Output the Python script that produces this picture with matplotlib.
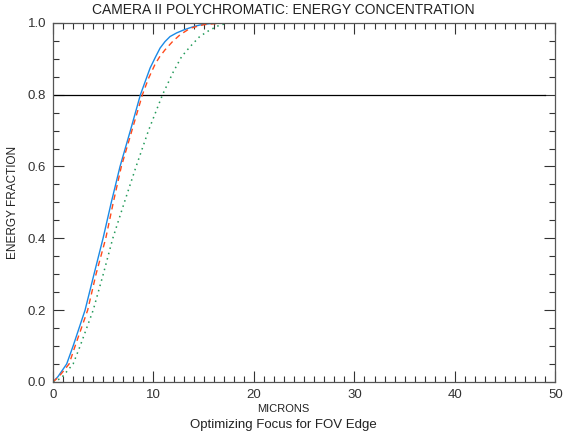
import matplotlib
matplotlib.use("Agg")
import matplotlib.pyplot as plt
from matplotlib.ticker import MultipleLocator

plt.rcParams["font.family"] = ["Liberation Sans", "DejaVu Sans"]

# energy fraction vs. microns
blue_x = [0, 0.5, 1.36, 2.0, 3.19, 4.08, 4.98, 5.8, 6.67, 7.7, 8.7, 9.66, 10.2, 10.66, 11.15, 11.65, 12.3, 12.98, 13.8, 14.6, 15.6, 16.6, 20, 25, 29.5]
blue_y = [0, 0.015, 0.05, 0.1, 0.2, 0.3, 0.4, 0.5, 0.6, 0.7, 0.8, 0.874, 0.905, 0.93, 0.948, 0.962, 0.972, 0.98, 0.988, 0.994, 0.998, 1.0, 1.0, 1.0, 1.0]

red_x = [0, 0.6, 1.6, 2.2, 3.45, 4.28, 5.25, 6.0, 6.8, 7.85, 8.9, 9.5, 10.16, 10.6, 11.15, 11.9, 12.65, 13.65, 15.0, 17.0, 20, 25, 29.5]
red_y = [0, 0.015, 0.05, 0.1, 0.2, 0.3, 0.4, 0.5, 0.6, 0.7, 0.8, 0.845, 0.885, 0.905, 0.925, 0.948, 0.967, 0.985, 0.995, 1.0, 1.0, 1.0, 1.0]

green_x = [0, 0.8, 2.0, 2.7, 4.0, 5.0, 5.95, 7.1, 8.27, 9.5, 10.9, 11.98, 12.8, 13.65, 14.6, 15.6, 16.6, 17.6, 20, 25, 29.5]
green_y = [0, 0.01, 0.05, 0.1, 0.2, 0.3, 0.4, 0.5, 0.6, 0.7, 0.8, 0.864, 0.906, 0.934, 0.962, 0.98, 0.994, 1.0, 1.0, 1.0, 1.0]

ref_level = 0.8
ref_x = [0, 49]

xticks = [0, 10, 20, 30, 40, 50]
yticks = [0.0, 0.2, 0.4, 0.6, 0.8, 1.0]

fig = plt.figure(figsize=(5.67, 4.4), dpi=100)
ax = fig.add_axes([0.0935, 0.132, 0.886, 0.816])

ax.plot(ref_x, [ref_level, ref_level], color="black", lw=0.9)
ax.plot(blue_x, blue_y, color="#1a8ae6", lw=1.0)
ax.plot(red_x, red_y, color="#ff4a1c", lw=1.0, dashes=(4, 3))
ax.plot(green_x, green_y, color="#239a5a", lw=1.1, dashes=(1, 2.6))

ax.set_xlim(0, 50)
ax.set_ylim(0, 1)
ax.set_xticks(xticks)
ax.set_xticklabels([str(t) for t in xticks])
ax.set_yticks(yticks)
ax.set_yticklabels(["%.1f" % t for t in yticks])
ax.xaxis.set_minor_locator(MultipleLocator(1))
ax.yaxis.set_minor_locator(MultipleLocator(0.05))
ax.tick_params(which="both", direction="in", top=True, right=True, labelsize=9.5, colors="#333333", width=0.8)
ax.tick_params(which="major", length=8, pad=5)
ax.tick_params(which="minor", length=4)
for s in ax.spines.values():
    s.set_color("#555555")
    s.set_linewidth(0.9)

# IDL centres the titles on the window, not on the plot box
fig.text(0.5, 1 - 10 / 440, "CAMERA II POLYCHROMATIC: ENERGY CONCENTRATION", ha="center", va="center",
         fontsize=10, color="#222222")
fig.text(0.5, 1 - 409 / 440, "MICRONS", ha="center", va="center", fontsize=8, color="#222222")
ax.set_ylabel("ENERGY FRACTION", fontsize=8.5, color="#222222")
ax.yaxis.set_label_coords(-0.068, 0.5)
fig.text(0.5, 1 - 425 / 440, "Optimizing Focus for FOV Edge", ha="center", va="center",
         fontsize=9.5, color="#222222")

fig.savefig("out.png", dpi=100)
